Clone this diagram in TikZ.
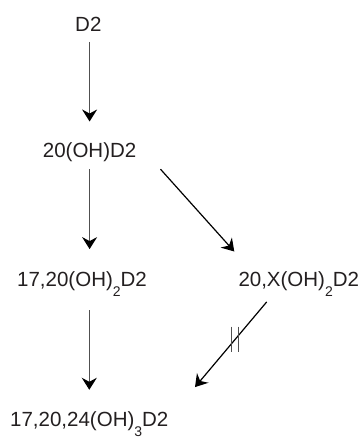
\documentclass[tikz,border=0pt]{standalone}
\usepackage{fontspec}
\setmainfont{Liberation Sans}
\usetikzlibrary{arrows.meta}
\definecolor{ink}{HTML}{231F20}
\definecolor{stem}{HTML}{505050}
% lowered subscript digit in a formula
\newcommand\lowsub[1]{\raisebox{-9.5pt}{\fontsize{14}{14}\selectfont #1}}
\tikzset{
  cpd/.style={inner sep=0pt, anchor=base west, text height=15pt, text depth=5pt,
              text=ink, font=\fontsize{20.5}{24}\selectfont},
  tip/.style={-{Stealth[length=12pt,width=15pt,inset=4pt,color=black]}},
  vstep/.style={tip, draw=stem, line width=1.3pt},
  dstep/.style={tip, draw=black, line width=1.2pt},
  blockbar/.style={draw=stem, line width=1pt}
}
\begin{document}
\begin{tikzpicture}[x=1pt, y=-1pt]
  \useasboundingbox (0,0) rectangle (361,439);

  % compounds
  \node[cpd] (d2)      at (75,31.7)    {D2};
  \node[cpd] (n20)     at (42.7,157)   {20(OH)D2};
  \node[cpd] (n1720)   at (17,286.5)   {17,20(OH)\lowsub{2}D2};
  \node[cpd] (n20x)    at (238.3,286.5){20,X(OH)\lowsub{2}D2};
  \node[cpd] (n172024) at (10,426.5)   {17,20,24(OH)\lowsub{3}D2};

  % vertical steps
  \draw[vstep] ([yshift=-5pt]d2.south -| n20.south) -- ([yshift=20.3pt]n20.north);
  \draw[vstep] ([yshift=-7pt]n20.south) -- ([yshift=22.2pt]n1720.north -| n20.south);
  \draw[vstep] ([yshift=-18.5pt]n1720.south -| n172024.south) -- ([yshift=21.5pt]n172024.north);

  % diagonal steps
  \draw[dstep] ([shift={(24pt,-7pt)}]n20.south east) -- ([shift={(-4pt,19.8pt)}]n20x.north west);
  \draw[dstep] ([shift={(28.4pt,-10.2pt)}]n20x.south west)
      -- coordinate[pos=0.44] (blk) ([shift={(26.4pt,24.2pt)}]n172024.north east);

  % blocked-step mark
  \draw[blockbar] ([shift={(-3.65pt,12.8pt)}]blk) -- ++(0,25.6);
  \draw[blockbar] ([shift={(3.65pt,12.8pt)}]blk) -- ++(0,25.6);
\end{tikzpicture}
\end{document}
